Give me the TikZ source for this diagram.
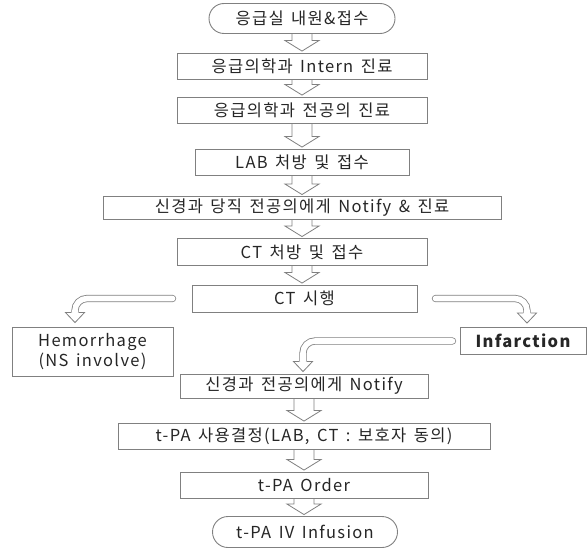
\documentclass[tikz,border=0pt]{standalone}
\usepackage{fontspec}
\setmainfont{Noto Sans CJK KR}[LetterSpace=8,WordSpace=1.5]
\usetikzlibrary{calc}
\usetikzlibrary{shapes.misc}
\newcommand\blockarrow[2]{
  \draw[blk] ($(#1.south)+(-10,0)$) -- ($(#1.south |- #2.north)+(-10,-12)$) -- ($(#1.south |- #2.north)+(-17,-12)$) -- ($(#1.south |- #2.north)+(0,-1.5)$) -- ($(#1.south |- #2.north)+(17,-12)$) -- ($(#1.south |- #2.north)+(10,-12)$) -- ($(#1.south)+(10,0)$);
}
\newcommand\bandhead[1]{
  \fill[white] ($(#1)+(-9.5,-10.2)$) -- ($(#1)+(9.5,-10.2)$) -- (#1) -- cycle;
  \draw[blk] ($(#1)+(-3.6,-10)$) -- ($(#1)+(-9.5,-10)$) -- (#1) -- ($(#1)+(9.5,-10)$) -- ($(#1)+(3.6,-10)$);
}

\begin{document}
\begin{tikzpicture}[x=1pt, y=-1pt,
  every node/.style={font=\fontsize{16.5}{20}\selectfont, text=black!85},
  box/.style={draw=black!50, line width=0.9pt, rectangle, inner sep=0pt, minimum height=26pt},
  term/.style={draw=black!50, line width=0.9pt, rounded rectangle, inner sep=0pt, minimum height=30pt},
  blk/.style={draw=black!50, line width=0.8pt, line join=miter},
  band/.style={draw=black!50, line width=0.8pt, double=white, double distance=5.6pt, line cap=round, rounded corners=12pt}]
  \useasboundingbox[fill=white] (0,0) rectangle (588,551);

  % main column
  \node[term, minimum width=186pt] (start) at (302,18.5) {응급실 내원\&접수};
  \node[box, minimum width=250pt] (intern) at (302,66) {응급의학과 Intern 진료};
  \node[box, minimum width=250pt] (resid) at (302,110) {응급의학과 전공의 진료};
  \node[box, minimum width=214pt] (lab) at (302,162) {LAB 처방 및 접수};
  \node[box, minimum width=398pt, minimum height=23pt] (notifya) at (302,208) {신경과 당직 전공의에게 Notify \& 진료};
  \node[box, minimum width=250pt, minimum height=27pt] (ctorder) at (302,252) {CT 처방 및 접수};
  \node[box, minimum width=225pt, minimum height=27pt] (ctscan) at (304.5,298.5) {CT 시행};

  % branches
  \node[box, minimum width=161pt, minimum height=49pt, align=center] (hem) at (92.5,351.5) {Hemorrhage\\(NS involve)};
  \node[box, minimum width=126pt, minimum height=27pt, font=\fontsize{16.5}{20}\selectfont\bfseries] (inf) at (523,341) {Infarction};

  \node[box, minimum width=248pt, minimum height=24pt] (notifyb) at (304,386) {신경과 전공의에게 Notify};
  \node[box, minimum width=372pt] (decide) at (304,436) {t-PA 사용결정(LAB, CT : 보호자 동의)};
  \node[box, minimum width=248pt] (order) at (304,485) {t-PA Order};
  \node[term, minimum width=185pt, minimum height=31pt] (infuse) at (305,532) {t-PA IV Infusion};

  % block arrows
  \blockarrow{start}{intern}
  \blockarrow{intern}{resid}
  \blockarrow{resid}{lab}
  \blockarrow{lab}{notifya}
  \blockarrow{notifya}{ctorder}
  \blockarrow{ctorder}{ctscan}
  \blockarrow{notifyb}{decide}
  \blockarrow{decide}{order}
  \blockarrow{order}{infuse}

  % curved arrows
  \coordinate (hemtip) at ($(hem.north)+(-17.5,-4)$);
  \coordinate (inftip) at ($(inf.north)+(4,-4)$);
  \coordinate (ntip) at ($(notifyb.north)+(-1,-2)$);
  \draw[band] ($(ctscan.west)+(-19,0)$) -| ($(hemtip)+(0,-10)$);
  \bandhead{hemtip}
  \draw[band] ($(ctscan.east)+(18,0)$) -| ($(inftip)+(0,-10)$);
  \bandhead{inftip}
  \draw[band] ($(inf.west)+(-7,0)$) -| ($(ntip)+(0,-10)$);
  \bandhead{ntip}
\end{tikzpicture}
\end{document}
